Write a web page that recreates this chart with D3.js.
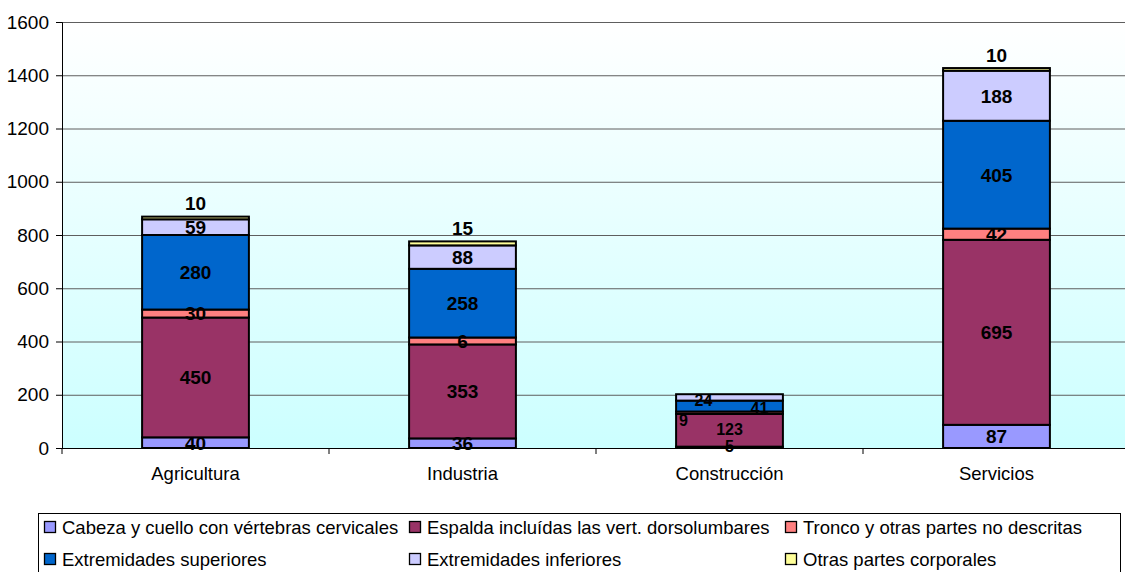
<!DOCTYPE html>
<html><head><meta charset="utf-8">
<script src="https://cdn.jsdelivr.net/npm/d3@7"></script>
<style>body{margin:0;background:#fff;}svg{display:block;font-family:"Liberation Sans",Arial,sans-serif;}</style>
</head><body>
<svg id="c" width="1125" height="572"></svg>
<script>
const categories = ["Agricultura","Industria","Construcción","Servicios"];
const seriesNames = ["Cabeza y cuello con vértebras cervicales","Espalda incluídas las vert. dorsolumbares","Tronco y otras partes no descritas","Extremidades superiores","Extremidades inferiores","Otras partes corporales"];
const cabeza = [40, 36, 5, 87];
const espalda = [450, 353, 123, 695];
const tronco = [30, 26, 9, 42];
const extSup = [280, 258, 41, 405];
const extInf = [59, 88, 24, 188];
const otras = [10, 15, 0, 10];
const troncoLabels = ["30","6","9","42"];
const yTicks = [0,200,400,600,800,1000,1200,1400,1600];
const colors = ["#9999ff","#993366","#ff8080","#0066cc","#ccccff","#ffff99"];

const series = [cabeza, espalda, tronco, extSup, extInf, otras];
const labelsFor = [cabeza.map(String), espalda.map(String), troncoLabels, extSup.map(String), extInf.map(String), otras.map(String)];

const svg = d3.select("#c");
const L=62, R=1130, T=22, B=448;
const x = d3.scaleBand().domain(categories).range([L,R]).paddingInner(0.6).paddingOuter(0.3);
const y = d3.scaleLinear().domain([0,1600]).range([B,T]);

const defs = svg.append("defs");
const g = defs.append("linearGradient").attr("id","bg").attr("x1",0).attr("y1",0).attr("x2",0).attr("y2",1);
g.append("stop").attr("offset","0%").attr("stop-color","#ffffff");
g.append("stop").attr("offset","100%").attr("stop-color","#ccffff");
svg.append("rect").attr("x",L).attr("y",T).attr("width",R-L).attr("height",B-T).attr("fill","url(#bg)");

// gridlines
svg.append("g").selectAll("line").data(yTicks.filter(d=>d>0)).join("line")
  .attr("x1",L).attr("x2",R).attr("y1",d=>y(d)+0.5).attr("y2",d=>y(d)+0.5)
  .attr("stroke","#5e5e5e").attr("stroke-width",1);

// stack
const rows = categories.map((c,i)=>{const o={cat:c}; series.forEach((s,k)=>o["s"+k]=s[i]); return o;});
const stack = d3.stack().keys(series.map((s,k)=>"s"+k))(rows);

stack.forEach((layer,k)=>{
  svg.append("g").selectAll("rect").data(layer.filter(d=>d[1]-d[0]>0)).join("rect")
    .attr("x",d=>x(d.data.cat)).attr("width",x.bandwidth())
    .attr("y",d=>y(d[1])).attr("height",d=>y(d[0])-y(d[1]))
    .attr("fill",colors[k]).attr("stroke","#000").attr("stroke-width",2);
});

// axes
svg.append("g").attr("transform",`translate(${L},0)`)
  .call(d3.axisLeft(y).tickValues(yTicks).tickSize(6).tickPadding(7).tickFormat(d3.format("d")))
  .call(a=>{a.select(".domain").attr("stroke","#000");a.selectAll("line").attr("stroke","#000");a.selectAll("text").attr("font-size",19).attr("fill","#000").attr("font-family","Liberation Sans, Arial");});
const xAxisG = svg.append("g").attr("transform",`translate(0,${B})`);
xAxisG.append("line").attr("x1",L).attr("x2",R).attr("y1",0.5).attr("y2",0.5).attr("stroke","#000");
const step = x.step();
xAxisG.selectAll("line.t").data(d3.range(categories.length+1)).join("line").attr("class","t")
  .attr("x1",i=>L+i*step).attr("x2",i=>L+i*step).attr("y1",0).attr("y2",6).attr("stroke","#000");
xAxisG.selectAll("text").data(categories).join("text")
  .attr("x",d=>x(d)+x.bandwidth()/2).attr("y",32).attr("text-anchor","middle")
  .attr("font-size",18.5).text(d=>d);

// labels
const offsets = {"Construcción":[[0,-1],[0,-1],[-46,8],[30,2],[-26,3],[0,0]]};
stack.forEach((layer,k)=>{
  layer.forEach((d,i)=>{
    if (d[1]-d[0] <= 0) return;
    let cx = x(d.data.cat)+x.bandwidth()/2;
    let cy = k===5 ? y(d[1]) - 13 : (y(d[0])+y(d[1]))/2;
    const off = offsets[d.data.cat];
    if (off) { cx += off[k][0]; cy += off[k][1]; }
    svg.append("text").attr("x",cx).attr("y",cy).attr("dy","0.36em")
      .attr("text-anchor","middle").attr("font-weight","bold")
      .attr("font-size", d.data.cat==="Construcción"?16:19).text(labelsFor[k][i]);
  });
});

// legend
const lg = svg.append("g");
lg.append("rect").attr("x",38.5).attr("y",513.5).attr("width",1082).attr("height",80).attr("fill","#fff").attr("stroke","#000");
const colX = [44, 409, 785], rowY = [527, 559];
seriesNames.forEach((n,k)=>{
  const cx = colX[k%3], cy = rowY[Math.floor(k/3)];
  lg.append("rect").attr("x",cx+0.5).attr("y",cy-5.5).attr("width",11).attr("height",11).attr("fill",colors[k]).attr("stroke","#000").attr("stroke-width",1.3);
  lg.append("text").attr("x",cx+18).attr("y",cy).attr("dy","0.36em").attr("font-size",18.5).text(n);
});
</script>
</body></html>
